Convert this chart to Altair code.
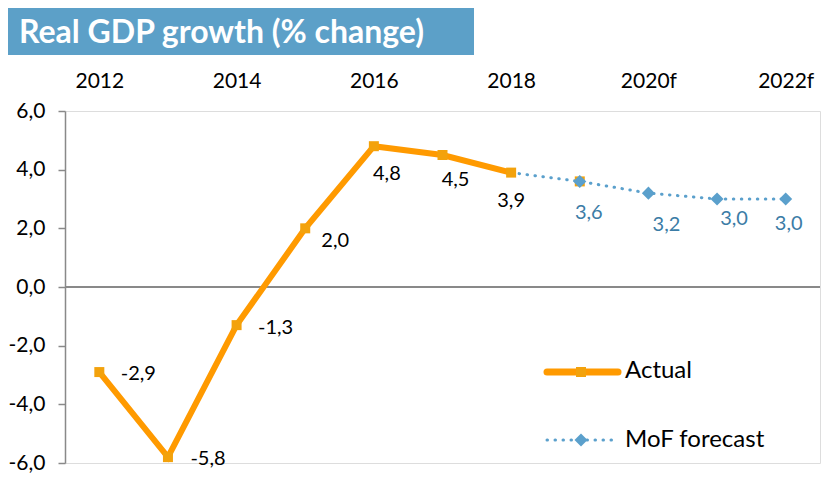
import altair as alt
import pandas as pd

# ---- data ----
years_actual = [2012, 2013, 2014, 2015, 2016, 2017, 2018]
values_actual = [-2.9, -5.8, -1.3, 2.0, 4.8, 4.5, 3.9]
years_forecast = [2018, 2019, 2020, 2021, 2022]
values_forecast = [3.9, 3.6, 3.2, 3.0, 3.0]
tick_years = [2012, 2014, 2016, 2018, 2020, 2022]
tick_labels = ["2012", "2014", "2016", "2018", "2020f", "2022f"]
y_ticks = [-6, -4, -2, 0, 2, 4, 6]
title_text = "Real GDP growth (% change)"
series_names = ["Actual", "MoF forecast"]

# ---- style ----
FONT = "Lato"
ORANGE = "#FF9A00"
ORANGE_MK = "#F3A20C"
BLUE = "#5BA0CC"
BLUE_TXT = "#3B7CA6"
GREY = "#898989"
BAR = "#5CA0C8"

# label pixel offsets (dx, dy) per point
actual_label_off = [(39, 2), (40, 2), (39, 3), (30, 13), (13, 28), (13, 25), (0, 28)]
forecast_label_off = [None, (9, 32), (18, 32), (17, 20), (3, 25)]


def fmt(v):
    return f"{v:.1f}".replace(".", ",")


df_a = pd.DataFrame({"year": years_actual, "value": values_actual})
df_a["label"] = [fmt(v) for v in values_actual]
df_f = pd.DataFrame({"year": years_forecast, "value": values_forecast})
df_f["label"] = [fmt(v) for v in values_forecast]
# Actual markers: Excel also shows a square beneath the first forecast marker
df_am = pd.concat([df_a, df_f.iloc[1:2]], ignore_index=True)
df_fm = df_f.iloc[1:]
one = pd.DataFrame({"k": [0]})

xs = alt.Scale(domain=[2011.5, 2022.5], nice=False, zero=False)
ys = alt.Scale(domain=[-6, 6], nice=False, zero=False)

xlab_expr = "".join(
    f"datum.value == {y} ? '{l}' : " for y, l in zip(tick_years, tick_labels)
) + "''"

X = alt.X(
    "year:Q",
    scale=xs,
    axis=alt.Axis(
        orient="top", values=tick_years, labelExpr=xlab_expr, domain=False,
        ticks=False, tickSize=0, grid=False, title=None, labelFont=FONT,
        labelFontSize=21, labelColor="#000", labelPadding=24,
        labelBaseline="alphabetic",
    ),
)
Y = alt.Y(
    "value:Q",
    scale=ys,
    axis=alt.Axis(
        values=y_ticks,
        labelExpr="(datum.value < 0 ? '-' : '') + replace(format(abs(datum.value), '.1f'), '.', ',')",
        domainColor=GREY, domainWidth=1.5, tickColor=GREY, tickWidth=1.5,
        tickSize=7, grid=False, title=None, labelFont=FONT, labelFontSize=21,
        labelColor="#000", labelPadding=13,
    ),
)

# title bar
bar = alt.Chart(one).mark_rect(color=BAR).encode(
    x=alt.value(-57), x2=alt.value(409), y=alt.value(-103), y2=alt.value(-56)
)
title = alt.Chart(one).mark_text(
    text=title_text, font=FONT, fontSize=32, fontWeight="bold", color="white",
    align="left", baseline="alphabetic",
).encode(x=alt.value(-46), y=alt.value(-68))

zero = alt.Chart(one).mark_rule(color=GREY, strokeWidth=2).encode(y=alt.datum(0), x=alt.value(0), x2=alt.value(755))

f_line = alt.Chart(df_f).mark_line(
    color=BLUE, strokeWidth=3, strokeDash=[0.5, 7.5], strokeCap="round"
).encode(x=X, y=Y)
a_line = alt.Chart(df_a).mark_line(color=ORANGE, strokeWidth=6).encode(x=X, y=Y)
a_pts = alt.Chart(df_am).mark_point(
    shape="square", filled=True, size=100, color=ORANGE_MK, opacity=1
).encode(x=X, y=Y)
f_pts = alt.Chart(df_fm).mark_point(
    shape="diamond", filled=True, size=170, color=BLUE, opacity=1
).encode(x=X, y=Y)

labels = []
for i, (yr, off) in enumerate(zip(years_actual, actual_label_off)):
    labels.append(
        alt.Chart(df_a.iloc[i:i + 1]).mark_text(
            font=FONT, fontSize=20, color="#000", dx=off[0], dy=off[1],
            align="center", baseline="middle",
        ).encode(x=X, y=Y, text="label:N")
    )
for i, (yr, off) in enumerate(zip(years_forecast, forecast_label_off)):
    if off is None:
        continue
    labels.append(
        alt.Chart(df_f.iloc[i:i + 1]).mark_text(
            font=FONT, fontSize=20, color=BLUE_TXT, dx=off[0], dy=off[1],
            align="center", baseline="middle",
        ).encode(x=X, y=Y, text="label:N")
    )

# legend
lg = []
lg.append(alt.Chart(one).mark_rule(color=ORANGE, strokeWidth=7, strokeCap="round").encode(
    x=alt.value(482), x2=alt.value(553), y=alt.value(261)))
lg.append(alt.Chart(one).mark_point(shape="square", filled=True, size=100, color=ORANGE_MK, opacity=1).encode(
    x=alt.value(516), y=alt.value(261)))
lg.append(alt.Chart(one).mark_text(text=series_names[0], font=FONT, fontSize=24, color="#000",
                                   align="left", baseline="middle").encode(x=alt.value(560), y=alt.value(260)))
lg.append(alt.Chart(one).mark_rule(color=BLUE, strokeWidth=3, strokeDash=[0.5, 7.5], strokeCap="round").encode(
    x=alt.value(482), x2=alt.value(553), y=alt.value(329)))
lg.append(alt.Chart(one).mark_point(shape="diamond", filled=True, size=170, color=BLUE, opacity=1).encode(
    x=alt.value(516), y=alt.value(329)))
lg.append(alt.Chart(one).mark_text(text=series_names[1], font=FONT, fontSize=24, color="#000",
                                   align="left", baseline="middle").encode(x=alt.value(560), y=alt.value(329)))

chart = alt.layer(
    bar, title, zero, f_line, a_line, a_pts, f_pts, *labels, *lg
).properties(
    width=755, height=352,
    autosize=alt.AutoSizeParams(type="none"),
    padding={"left": 57, "top": 103, "right": 10, "bottom": 10},
).configure_view(stroke=None).configure(background="white")

chart.save("out.html", embed_options={"renderer": "svg", "actions": False})
